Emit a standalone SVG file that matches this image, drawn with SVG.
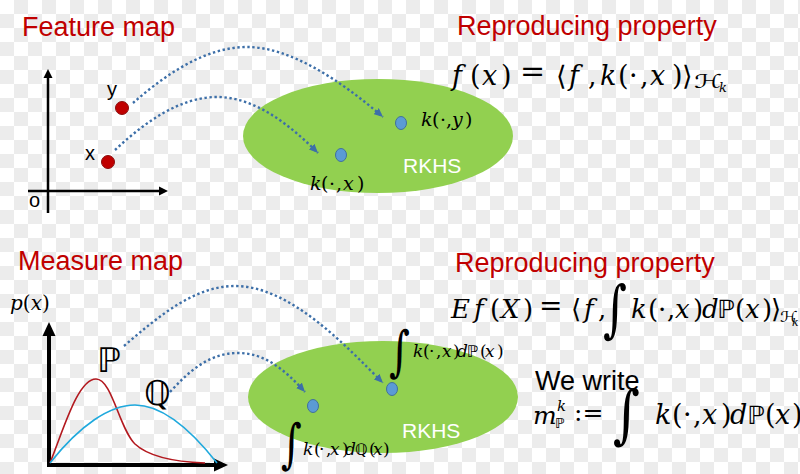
<svg xmlns="http://www.w3.org/2000/svg" width="800" height="474" viewBox="0 0 800 474">
<defs>
<pattern id="chk" x="0" y="0" width="28" height="28" patternUnits="userSpaceOnUse">
<rect width="28" height="28" fill="#ffffff"/>
<rect x="14" y="0" width="14" height="14" fill="#ececec"/>
<rect x="0" y="14" width="14" height="14" fill="#ececec"/>
</pattern>
<marker id="ah" markerUnits="userSpaceOnUse" markerWidth="9" markerHeight="8" refX="9" refY="4" orient="auto">
<path d="M0,0 L9,4 L0,8 z" fill="#3d6fa8"/>
</marker>
<style>
.title{font-family:"Liberation Sans",Arial,sans-serif;font-size:27px;fill:#c00000}
.sans{font-family:"Liberation Sans",Arial,sans-serif;fill:#000}
.rk{font-family:"Liberation Sans",Arial,sans-serif;font-size:21px;fill:#ffffff}
.math{font-family:"DejaVu Serif","Liberation Serif","DejaVu Sans",serif;fill:#000}
.op{font-family:"DejaVu Serif","DejaVu Sans",serif;fill:#000}
.it{font-style:italic}
.bb{font-family:"DejaVu Sans","DejaVu Serif",sans-serif;font-style:normal}
.int{font-family:"DejaVu Serif","DejaVu Sans",serif;fill:#000;font-size:40px}
.rkhs{fill:#92d050}
.pt{fill:#c00000;stroke:#8b1010;stroke-width:1}
.bp{fill:#5b9bd5;stroke:#41719c;stroke-width:1}
.conn{fill:none;stroke:#3d6fa8;stroke-width:2.4;stroke-dasharray:2.4 2.6;marker-end:url(#ah)}
</style>
</defs>
<rect width="800" height="474" fill="url(#chk)"/>

<g id="feature-title"><text class="title" x="22" y="36">Feature map</text></g>
<g id="axes-top">
<line x1="48" y1="213" x2="48" y2="76" stroke="#000" stroke-width="2.5"/>
<polygon points="48,69 43.5,78 52.5,78" fill="#000"/>
<line x1="28" y1="191" x2="160" y2="191" stroke="#000" stroke-width="2.5"/>
<polygon points="168,191 159,186.5 159,195.5" fill="#000"/>
<text class="sans" x="29" y="207" font-size="20">o</text>
</g>
<g id="point-y"><circle class="pt" cx="122" cy="108" r="6.5"/><text class="sans" x="107" y="96" font-size="20">y</text></g>
<g id="point-x"><circle class="pt" cx="108" cy="162" r="6.5"/><text class="sans" x="85" y="160" font-size="20">x</text></g>

<g id="rkhs-top">
<ellipse class="rkhs" cx="378" cy="136" rx="135" ry="57"/>
<text class="rk" x="403" y="173">RKHS</text>
</g>
<g id="kx-top"><ellipse class="bp" cx="341" cy="155" rx="5.5" ry="6.5"/>
<text class="math" y="190" font-size="19"><tspan class="it" x="310">k</tspan><tspan x="321">(</tspan><tspan x="329">·</tspan><tspan x="336">,</tspan><tspan class="it" x="343">x</tspan><tspan x="357">)</tspan></text></g>
<g id="ky-top"><ellipse class="bp" cx="401" cy="123" rx="5.5" ry="6.5"/>
<text class="math" y="126" font-size="19"><tspan class="it" x="421">k</tspan><tspan x="432">(</tspan><tspan x="440">·</tspan><tspan x="446">,</tspan><tspan class="it" x="452">y</tspan><tspan x="465">)</tspan></text></g>

<g id="repro-top">
<text class="title" x="457" y="35">Reproducing property</text>
<text class="math" y="85" font-size="27"><tspan class="it" x="452">f</tspan><tspan x="470">(</tspan><tspan class="it" x="482">x</tspan><tspan x="501">)</tspan><tspan x="556">⟨</tspan><tspan class="it" x="569">f</tspan><tspan x="588">,</tspan><tspan class="it" x="600">k</tspan><tspan x="618">(</tspan><tspan x="629">·</tspan><tspan x="640">,</tspan><tspan class="it" x="650">x</tspan><tspan x="672">)</tspan><tspan x="682">⟩</tspan></text>
<text class="op" x="520" y="81" font-size="30">=</text>
<text class="bb" font-size="19" transform="translate(694,88) scale(1.5,1)">ℋ</text>
<text class="math it" x="719" y="92" font-size="13">k</text>
</g>

<g id="measure-title"><text class="title" x="18" y="270">Measure map</text></g>
<g id="axes-bottom">
<text class="math" x="10" y="310" font-size="20"><tspan class="it">p</tspan>(<tspan class="it">x</tspan>)</text>
<line x1="49" y1="467" x2="49" y2="334" stroke="#000" stroke-width="4"/>
<polygon points="49,322 42.5,336 55.5,336" fill="#000"/>
<line x1="47" y1="465" x2="216" y2="465" stroke="#000" stroke-width="4"/>
<polygon points="228,465 214,458.5 214,471.5" fill="#000"/>
</g>
<g id="dist-p">
<path d="M50,463 C64,428 78,379 96,379 C112,379 119,428 135,444 C150,458 178,462 205,463" fill="none" stroke="#b3191f" stroke-width="1.6"/>
<text class="bb" x="97" y="372" font-size="34">ℙ</text>
</g>
<g id="dist-q">
<path d="M50,463 C80,425 110,405 135,405 C165,405 195,435 217,463" fill="none" stroke="#1fa9dd" stroke-width="1.6"/>
<text class="bb" x="144" y="405" font-size="34">ℚ</text>
</g>

<g id="rkhs-bottom">
<ellipse class="rkhs" cx="383" cy="397" rx="135" ry="56"/>
<text class="rk" x="402" y="438">RKHS</text>
</g>
<g id="mp-bottom"><ellipse class="bp" cx="392" cy="389" rx="5.5" ry="6.5"/>
<text class="int" transform="translate(389,370) scale(1,1.36)">∫</text>
<text class="math" y="357" font-size="17"><tspan class="it" x="413">k</tspan><tspan x="423">(</tspan><tspan x="429">·</tspan><tspan x="436">,</tspan><tspan class="it" x="442">x</tspan><tspan x="453">)</tspan><tspan class="it" x="457">d</tspan><tspan class="bb" x="467" font-size="16">ℙ</tspan><tspan x="480">(</tspan><tspan class="it" x="485">x</tspan><tspan x="497">)</tspan></text></g>
<g id="mq-bottom"><ellipse class="bp" cx="313" cy="406" rx="5.5" ry="6.5"/>
<text class="int" transform="translate(281,462) scale(1,1.33)">∫</text>
<text class="math" y="455" font-size="17"><tspan class="it" x="303">k</tspan><tspan x="314">(</tspan><tspan x="319">·</tspan><tspan x="326">,</tspan><tspan class="it" x="330">x</tspan><tspan x="342">)</tspan><tspan class="it" x="345">d</tspan><tspan class="bb" x="355" font-size="16">ℚ</tspan><tspan x="369">(</tspan><tspan class="it" x="373">x</tspan><tspan x="383">)</tspan></text></g>

<g id="repro-bottom">
<text class="title" x="455" y="272">Reproducing property</text>
<text class="math" y="318" font-size="26"><tspan class="it" x="451">E</tspan><tspan class="it" x="474">f</tspan><tspan x="490">(</tspan><tspan class="it" x="501">X</tspan><tspan x="523">)</tspan><tspan x="571">⟨</tspan><tspan class="it" x="584">f</tspan><tspan x="598">,</tspan><tspan class="it" x="631">k</tspan><tspan x="648">(</tspan><tspan x="658">·</tspan><tspan x="667">,</tspan><tspan class="it" x="675">x</tspan><tspan x="693">)</tspan><tspan class="it" x="702">d</tspan><tspan class="bb" x="717" font-size="25">ℙ</tspan><tspan x="735">(</tspan><tspan class="it" x="745">x</tspan><tspan x="762">)</tspan><tspan x="771">⟩</tspan></text>
<text class="op" x="539" y="315" font-size="28">=</text>
<text class="int" transform="translate(603,330) scale(1.15,1.55)">∫</text>
<text class="bb" font-size="15" transform="translate(780,322) scale(1.2,1)">ℋ</text>
<text class="math it" x="792" y="326" font-size="11">k</text>
</g>
<g id="we-write">
<text class="sans" x="535" y="390" font-size="27">We write</text>
<text class="math it" x="533" y="424" font-size="25">m</text>
<text class="math it" x="557" y="411" font-size="15">k</text>
<text class="bb" x="555" y="428" font-size="14">ℙ</text>
<text class="op" x="574" y="421" font-size="25">:=</text>
<text class="int" transform="translate(613,436) scale(1.3,1.59)">∫</text>
<text class="math" y="424" font-size="27"><tspan class="it" x="655">k</tspan><tspan x="672">(</tspan><tspan x="683">·</tspan><tspan x="693">,</tspan><tspan class="it" x="702">x</tspan><tspan x="721">)</tspan><tspan class="it" x="730">d</tspan><tspan class="bb" x="747" font-size="25">ℙ</tspan><tspan x="765">(</tspan><tspan class="it" x="775">x</tspan><tspan x="792">)</tspan></text>
</g>

<g id="connectors">
<path class="conn" d="M133,103 C165,75 205,47 247,47 C290,47 340,80 383,117"/>
<path class="conn" d="M115,150 C145,122 180,97 217,97 C255,97 290,125 318,153"/>
<path class="conn" d="M124,346 C160,315 195,286 235,286 C290,286 345,345 383,383"/>
<path class="conn" d="M170,392 C190,370 210,353 238,353 C265,353 285,370 305,392"/>
</g>
</svg>
